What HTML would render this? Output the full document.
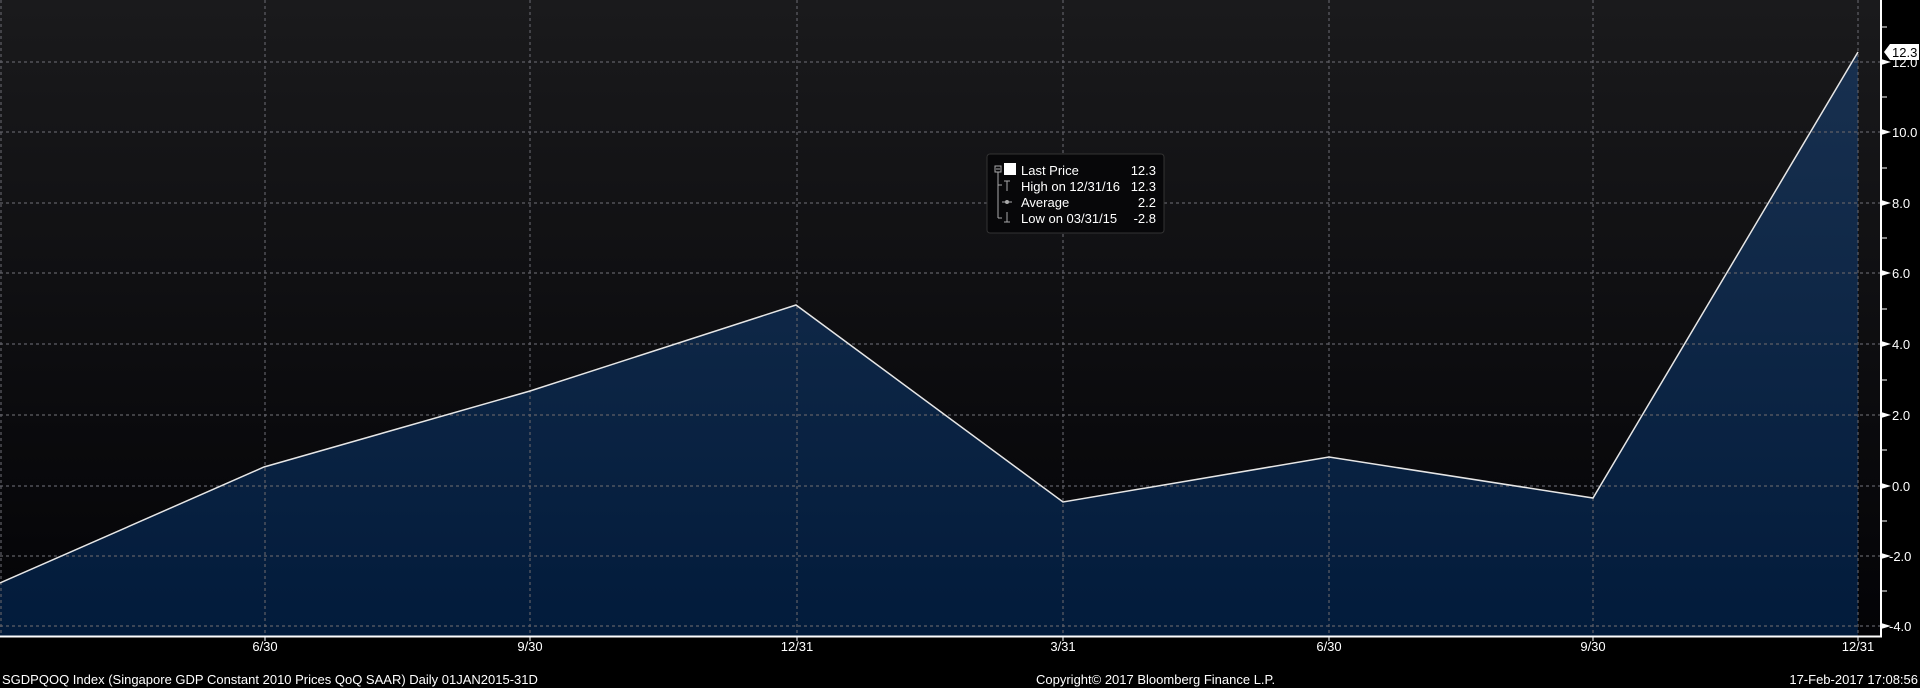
<!DOCTYPE html>
<html><head><meta charset="utf-8"><style>
html,body{margin:0;padding:0;background:#000;width:1920px;height:688px;overflow:hidden}
svg{display:block}
text{font-family:"Liberation Sans Narrow","Liberation Sans",sans-serif;}
</style></head><body>
<svg width="1920" height="688" viewBox="0 0 1920 688" xmlns="http://www.w3.org/2000/svg">
<defs>
<linearGradient id="bg" x1="0" y1="0" x2="0" y2="1">
<stop offset="0" stop-color="#1a1a1c"/><stop offset="1" stop-color="#030306"/>
</linearGradient>
<linearGradient id="fl" x1="0" y1="0" x2="0" y2="1">
<stop offset="0" stop-color="#18304f"/><stop offset="1" stop-color="#021b3b"/>
</linearGradient>
</defs>
<rect x="0" y="0" width="1881" height="636" fill="url(#bg)"/>
<polygon fill="url(#fl)" points="0,583 264,467 530,391 796,305 1063,502 1329,457 1593,498 1858,52 1858,636 0,636"/>
<g stroke="#5f5f66" stroke-width="1.2" stroke-dasharray="3,3" fill="none">
<line x1="0" y1="62" x2="1880" y2="62"/>
<line x1="0" y1="132" x2="1880" y2="132"/>
<line x1="0" y1="203" x2="1880" y2="203"/>
<line x1="0" y1="273" x2="1880" y2="273"/>
<line x1="0" y1="344" x2="1880" y2="344"/>
<line x1="0" y1="415" x2="1880" y2="415"/>
<line x1="0" y1="486" x2="1880" y2="486"/>
<line x1="0" y1="556" x2="1880" y2="556"/>
<line x1="0" y1="626" x2="1880" y2="626"/>
<line x1="1" y1="0" x2="1" y2="636"/>
<line x1="265" y1="0" x2="265" y2="636"/>
<line x1="530" y1="0" x2="530" y2="636"/>
<line x1="797" y1="0" x2="797" y2="636"/>
<line x1="1063" y1="0" x2="1063" y2="636"/>
<line x1="1329" y1="0" x2="1329" y2="636"/>
<line x1="1593" y1="0" x2="1593" y2="636"/>
<line x1="1858" y1="0" x2="1858" y2="636"/>
</g>
<polyline fill="none" stroke="#e6e6e6" stroke-width="1.5" points="0,583 264,467 530,391 796,305 1063,502 1329,457 1593,498 1858,52"/>
<rect x="1881" y="0" width="39" height="636" fill="#000"/>
<line x1="0" y1="636.5" x2="1882" y2="636.5" stroke="#fff" stroke-width="2"/>
<line x1="1881" y1="0" x2="1881" y2="637" stroke="#fff" stroke-width="2"/>
<g stroke="#fff" stroke-width="1">
<line x1="1881" y1="27" x2="1887" y2="27"/><line x1="1881" y1="97" x2="1887" y2="97"/>
<line x1="1881" y1="168" x2="1887" y2="168"/><line x1="1881" y1="238" x2="1887" y2="238"/>
<line x1="1881" y1="309" x2="1887" y2="309"/><line x1="1881" y1="380" x2="1887" y2="380"/>
<line x1="1881" y1="450" x2="1887" y2="450"/><line x1="1881" y1="521" x2="1887" y2="521"/>
<line x1="1881" y1="591" x2="1887" y2="591"/>
</g>
<g fill="#fff">
<polygon points="1881,59 1891,62 1881,65"/><polygon points="1881,129 1891,132 1881,135"/>
<polygon points="1881,200 1891,203 1881,206"/><polygon points="1881,270 1891,273 1881,276"/>
<polygon points="1881,341 1891,344 1881,347"/><polygon points="1881,412 1891,415 1881,418"/>
<polygon points="1881,483 1891,486 1881,489"/><polygon points="1881,553 1891,556 1881,559"/>
<polygon points="1881,623 1891,626 1881,629"/>
</g>
<g fill="#fff" font-size="13">
<text x="1892" y="67">12.0</text><text x="1892" y="137">10.0</text>
<text x="1892" y="208">8.0</text><text x="1892" y="278">6.0</text>
<text x="1892" y="349">4.0</text><text x="1892" y="420">2.0</text>
<text x="1892" y="491">0.0</text><text x="1889" y="561">-2.0</text>
<text x="1889" y="631">-4.0</text>
</g>
<polygon points="1884,52 1890,44 1919,44 1919,60 1890,60" fill="#fff"/>
<text x="1892" y="57" font-size="13" fill="#000">12.3</text>
<g stroke="#fff"><line x1="265" y1="636" x2="265" y2="641"/><line x1="530" y1="636" x2="530" y2="641"/><line x1="797" y1="636" x2="797" y2="641"/><line x1="1063" y1="636" x2="1063" y2="641"/><line x1="1329" y1="636" x2="1329" y2="641"/><line x1="1593" y1="636" x2="1593" y2="641"/><line x1="1858" y1="636" x2="1858" y2="641"/></g>
<g fill="#fff" font-size="13" text-anchor="middle">
<text x="265" y="651">6/30</text><text x="530" y="651">9/30</text><text x="797" y="651">12/31</text>
<text x="1063" y="651">3/31</text><text x="1329" y="651">6/30</text><text x="1593" y="651">9/30</text>
<text x="1858" y="651">12/31</text>
</g>
<g fill="#fff" font-size="13">
<text x="2" y="684">SGDPQOQ Index (Singapore GDP Constant 2010 Prices QoQ SAAR)  Daily 01JAN2015-31D</text>
<text x="1036" y="684">Copyright© 2017 Bloomberg Finance L.P.</text>
<text x="1918" y="684" text-anchor="end">17-Feb-2017 17:08:56</text>
</g>
<rect x="987" y="154" width="177" height="79" rx="3" fill="#070709" stroke="#333" stroke-width="1"/>
<g stroke="#aaa" fill="none" stroke-width="1">
<rect x="995" y="166" width="6" height="6"/><line x1="996" y1="169" x2="1000" y2="169"/>
<line x1="998" y1="172" x2="998" y2="218"/><line x1="998" y1="185" x2="1002" y2="185"/>
<line x1="998" y1="218" x2="1002" y2="218"/>
<line x1="1004" y1="181" x2="1010" y2="181"/><line x1="1007" y1="181" x2="1007" y2="191"/>
<line x1="1002" y1="202" x2="1012" y2="202"/><circle cx="1007" cy="202" r="1.5" fill="#aaa"/>
<line x1="1007" y1="212" x2="1007" y2="222"/><line x1="1004" y1="222" x2="1010" y2="222"/>
</g>
<rect x="1004" y="163" width="12" height="12" fill="#fff"/>
<g fill="#fff" font-size="13">
<text x="1021" y="175">Last Price</text><text x="1156" y="175" text-anchor="end">12.3</text>
<text x="1021" y="191">High on 12/31/16</text><text x="1156" y="191" text-anchor="end">12.3</text>
<text x="1021" y="207">Average</text><text x="1156" y="207" text-anchor="end">2.2</text>
<text x="1021" y="223">Low on 03/31/15</text><text x="1156" y="223" text-anchor="end">-2.8</text>
</g>
</svg>
</body></html>
